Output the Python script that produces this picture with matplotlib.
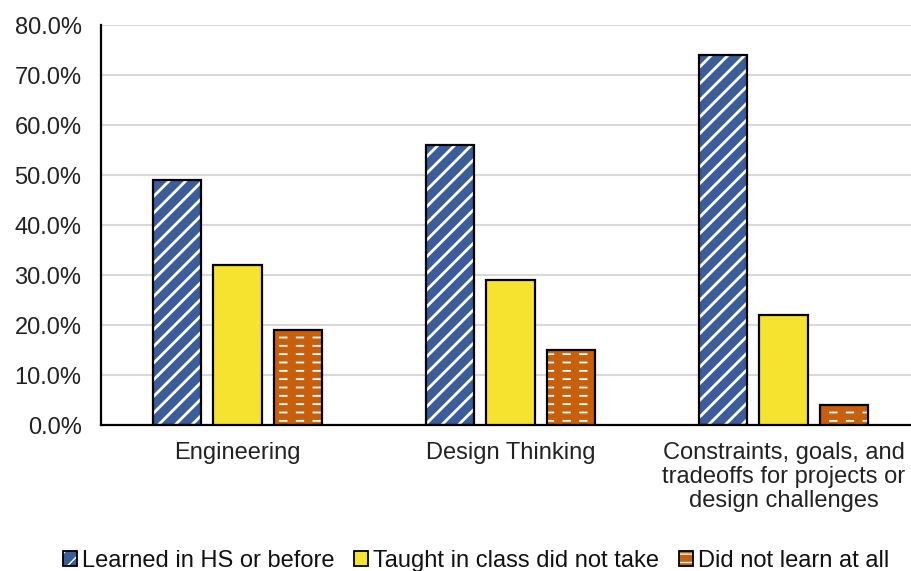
import matplotlib
matplotlib.use("Agg")
import matplotlib.pyplot as plt
import numpy as np
from matplotlib.patches import Patch

categories = ["Engineering", "Design Thinking",
              "Constraints, goals, and\ntradeoffs for projects or\ndesign challenges"]
series_names = ["Learned in HS or before", "Taught in class did not take", "Did not learn at all"]
learned_hs = [49, 56, 74]
taught_not_taken = [32, 29, 22]
not_learned = [19, 15, 4]
y_ticks = [0, 10, 20, 30, 40, 50, 60, 70, 80]

plt.rcParams['font.family'] = ['Liberation Sans', 'DejaVu Sans']

W, H = 912, 571
fig = plt.figure(figsize=(W / 100, H / 100), dpi=100)
ax = fig.add_axes([101 / W, (571 - 425) / H, (920 - 101) / W, 400 / H])

blue = '#3B5E9B'
yellow = '#F5E330'
orange = '#C75F0C'

x = np.arange(len(categories))
bw = 0.176
step = 0.22


def make_bar(xpos, vals, face, hatch_col, hatch, hlw, zorder):
    with plt.rc_context({'hatch.linewidth': hlw}):
        b = ax.bar(xpos, vals, bw, color=face, edgecolor=hatch_col, hatch=hatch,
                   linewidth=0, zorder=zorder)
    for p in b:
        if hasattr(p, 'set_hatch_linewidth'):
            p.set_hatch_linewidth(hlw)
    return b


# series 1: blue with white diagonal stripes
make_bar(x - step, learned_hs, blue, 'white', '//', 2.0, 2)
ax.bar(x - step, learned_hs, bw, facecolor='none', edgecolor='black', linewidth=1.6, zorder=5)
# series 2: plain yellow
ax.bar(x, taught_not_taken, bw, color=yellow, edgecolor='black', linewidth=1.6, zorder=5)
# series 3: orange with white dashes
make_bar(x + step, not_learned, orange, 'white', '--', 1.3, 2)
make_bar(x + step, not_learned, 'none', orange, '|', 6.0, 3)
ax.bar(x + step, not_learned, bw, facecolor='none', edgecolor='black', linewidth=1.6, zorder=5)

ax.set_xlim(-0.5, len(categories) - 0.5)
ax.set_ylim(0, 80)
ax.set_yticks(y_ticks)
ax.set_yticklabels([f"{v:.1f}%" for v in y_ticks], fontsize=17, color='#222222')
ax.set_xticks(x)
ax.set_xticklabels(categories, fontsize=17, color='#222222', linespacing=1.12, va='top')
ax.tick_params(axis='both', length=0)
ax.tick_params(axis='y', pad=14)
ax.tick_params(axis='x', pad=12)
ax.grid(axis='y', color='#d9d9d9', linewidth=1.5, zorder=0)
ax.set_axisbelow(True)
for s in ['top', 'right']:
    ax.spines[s].set_visible(False)
ax.spines['left'].set_color('black')
ax.spines['left'].set_linewidth(1.6)
ax.spines['bottom'].set_color('black')
ax.spines['bottom'].set_linewidth(1.6)

# legend with patterned handles
with plt.rc_context({'hatch.linewidth': 1.5}):
    h1 = Patch(facecolor=blue, edgecolor='white', hatch='//', linewidth=0)
h1b = Patch(facecolor='none', edgecolor='black', linewidth=1.3)
h2 = Patch(facecolor=yellow, edgecolor='black', linewidth=1.3)
with plt.rc_context({'hatch.linewidth': 1.0}):
    h3 = Patch(facecolor=orange, edgecolor='white', hatch='--', linewidth=0)
h3b = Patch(facecolor='none', edgecolor='black', linewidth=1.3)

leg = fig.legend([(h1, h1b), h2, (h3, h3b)], series_names, loc='center',
                 bbox_to_anchor=(476 / W, 1 - 561 / H), ncol=3, frameon=False,
                 fontsize=17, handlelength=0.6, handleheight=0.6, handletextpad=0.2,
                 columnspacing=0.85, borderaxespad=0, borderpad=0)
for t in leg.get_texts():
    t.set_color('#111111')

fig.savefig('out.png', dpi=100)
